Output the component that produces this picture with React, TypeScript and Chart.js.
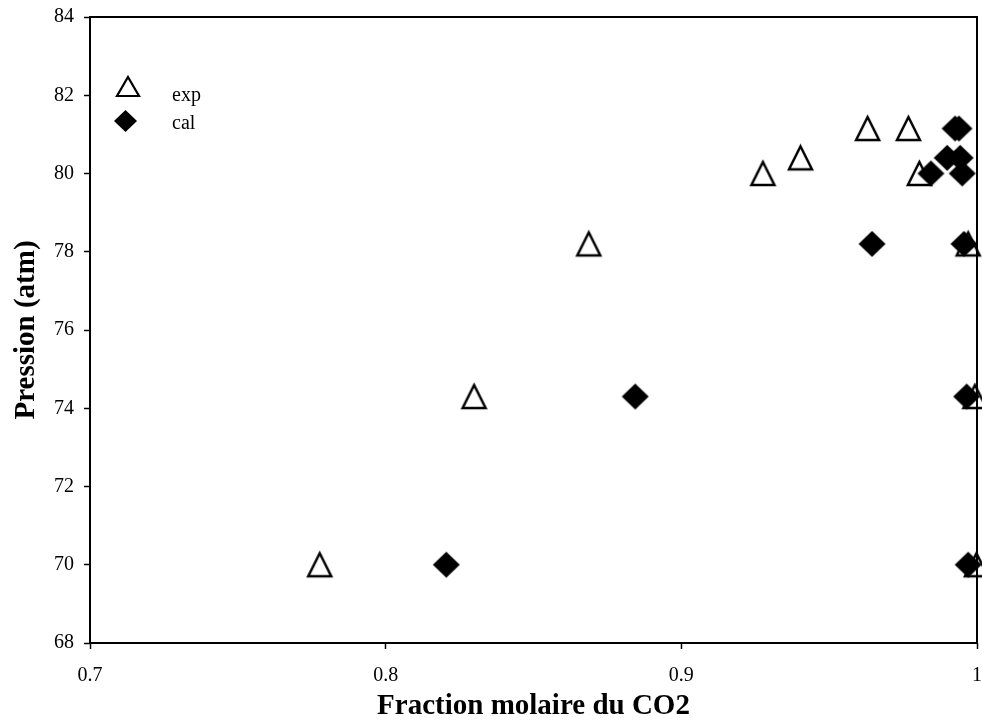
import { useEffect, useRef } from "react";
import { Chart, registerables } from "chart.js";

Chart.register(...registerables);

// Experimental points (CO2 mole fraction, pressure in atm)
const expX = [0.7777, 0.8299, 0.8687, 0.9276, 0.9403, 0.963, 0.9768, 0.9805, 0.997, 0.9993, 0.9998];
const expY = [70, 74.3, 78.2, 80, 80.4, 81.15, 81.15, 80, 78.2, 74.3, 70];

// Calculated points
const calX = [0.8205, 0.8844, 0.9645, 0.9844, 0.9899, 0.9926, 0.9939, 0.9943, 0.995, 0.9956, 0.9965, 0.997];
const calY = [70, 74.3, 78.2, 80, 80.4, 81.15, 81.15, 80.4, 80, 78.2, 74.3, 70];

const seriesNames = ["exp", "cal"];
const xTickValues = [0.7, 0.8, 0.9, 1];
const yTickValues = [68, 70, 72, 74, 76, 78, 80, 82, 84];
const xTitle = "Fraction molaire du CO2";
const yTitle = "Pression (atm)";

const SERIF = "'Liberation Serif', 'Times New Roman', serif";

function makeTriangle(w: number, h: number, lw: number): HTMLCanvasElement {
  const pad = 6;
  const c = document.createElement("canvas");
  c.width = w + pad * 2;
  c.height = h + pad * 2;
  const ctx = c.getContext("2d")!;
  ctx.beginPath();
  ctx.moveTo(pad + w / 2, pad);
  ctx.lineTo(pad + w, pad + h);
  ctx.lineTo(pad, pad + h);
  ctx.closePath();
  ctx.fillStyle = "#ffffff";
  ctx.fill();
  ctx.lineWidth = lw;
  ctx.strokeStyle = "#000000";
  ctx.lineJoin = "miter";
  ctx.stroke();
  return c;
}

function makeDiamond(w: number, h: number): HTMLCanvasElement {
  const pad = 2;
  const c = document.createElement("canvas");
  c.width = w + pad * 2;
  c.height = h + pad * 2;
  const ctx = c.getContext("2d")!;
  ctx.beginPath();
  ctx.moveTo(pad + w / 2, pad);
  ctx.lineTo(pad + w, pad + h / 2);
  ctx.lineTo(pad + w / 2, pad + h);
  ctx.lineTo(pad, pad + h / 2);
  ctx.closePath();
  ctx.fillStyle = "#000000";
  ctx.fill();
  return c;
}

export default function App() {
  const ref = useRef<HTMLCanvasElement | null>(null);

  useEffect(() => {
    const canvas = ref.current;
    if (!canvas) return;

    const tri = makeTriangle(23, 23, 2.5);
    const dia = makeDiamond(27, 26);
    const triSmall = makeTriangle(22, 19, 2.2);
    const diaSmall = makeDiamond(23, 22);

    // Frame around the plot area and the in-plot legend
    const framePlugin = {
      id: "frameAndLegend",
      afterDatasetsDraw(chart: any) {
        const { ctx, chartArea } = chart;
        const { left, top, right, bottom } = chartArea;
        ctx.save();
        ctx.strokeStyle = "#000000";
        ctx.lineWidth = 2;
        ctx.strokeRect(left, top, right - left, bottom - top);

        const markers = [triSmall, diaSmall];
        const markerRows = [69, 103.5];
        const textRows = [84, 112];
        ctx.font = `20px ${SERIF}`;
        ctx.fillStyle = "#000000";
        ctx.textBaseline = "alphabetic";
        ctx.textAlign = "left";
        seriesNames.forEach((name, i) => {
          const m = markers[i];
          const cx = left + (i === 0 ? 37.5 : 35);
          const cy = top + markerRows[i];
          ctx.drawImage(m, Math.round(cx - m.width / 2), Math.round(cy - m.height / 2));
          ctx.fillText(name, left + 82, top + textRows[i]);
        });
        ctx.restore();
      },
    };

    const chart = new Chart(canvas, {
      type: "scatter",
      data: {
        datasets: [
          {
            label: seriesNames[0],
            data: expX.map((x, i) => ({ x, y: expY[i] })),
            pointStyle: tri,
            order: 2,
            clip: false as any,
          },
          {
            label: seriesNames[1],
            data: calX.map((x, i) => ({ x, y: calY[i] })),
            pointStyle: dia,
            order: 1,
            clip: false as any,
          },
        ],
      },
      options: {
        responsive: false,
        animation: false,
        devicePixelRatio: 1,
        layout: { padding: { left: 0, top: 17, right: 4, bottom: 0 } },
        plugins: {
          legend: { display: false },
          tooltip: { enabled: false },
        },
        scales: {
          x: {
            type: "linear",
            min: 0.7,
            max: 1,
            afterBuildTicks: (s: any) => {
              s.ticks = xTickValues.map((v) => ({ value: v }));
            },
            afterFit: (s: any) => {
              s.height = 84;
              s.paddingLeft = 0;
              s.paddingRight = 0;
            },
            ticks: {
              autoSkip: false,
              maxRotation: 0,
              padding: 15,
              color: "#000000",
              font: { family: SERIF, size: 20 },
              callback: (v: any) => String(+Number(v).toFixed(1)),
            },
            grid: {
              display: true,
              drawOnChartArea: false,
              drawTicks: true,
              tickLength: 6,
              tickWidth: 1.5,
              tickColor: "#000000",
            },
            border: { display: false },
            title: {
              display: true,
              text: xTitle,
              color: "#000000",
              font: { family: SERIF, size: 29, weight: "bold" },
              padding: { top: 0, bottom: 3 },
            },
          },
          y: {
            type: "linear",
            min: 68,
            max: 84,
            afterBuildTicks: (s: any) => {
              s.ticks = yTickValues.map((v) => ({ value: v }));
            },
            afterFit: (s: any) => {
              s.width = 90;
              s.paddingTop = 0;
              s.paddingBottom = 0;
            },
            ticks: {
              autoSkip: false,
              padding: 10,
              color: "#000000",
              font: { family: SERIF, size: 20 },
              callback: (v: any) => String(v),
            },
            grid: {
              display: true,
              drawOnChartArea: false,
              drawTicks: true,
              tickLength: 6,
              tickWidth: 1.5,
              tickColor: "#000000",
            },
            border: { display: false },
            title: {
              display: true,
              text: yTitle,
              color: "#000000",
              font: { family: SERIF, size: 29, weight: "bold" },
              padding: { top: 9, bottom: 0 },
            },
          },
        },
      },
      plugins: [framePlugin],
    });

    return () => chart.destroy();
  }, []);

  return (
    <canvas
      ref={ref}
      width={982}
      height={727}
      style={{ position: "absolute", left: 0, top: 0, width: 982, height: 727, background: "#ffffff" }}
    />
  );
}
